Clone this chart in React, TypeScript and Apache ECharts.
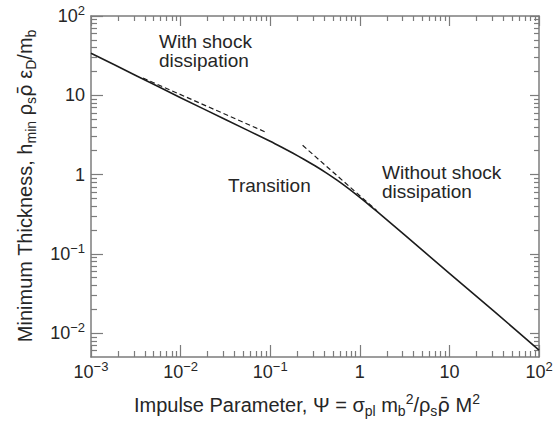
import React, { useEffect, useRef } from "react";
import * as echarts from "echarts";

// Solid curve: impulse parameter Psi vs minimum thickness
const curvePsi = [0.001, 0.00316, 0.01, 0.0316, 0.1, 0.133, 0.178, 0.237, 0.316, 0.422, 0.562, 0.75, 1, 1.334, 1.778, 3.16, 10, 31.6, 100];
const curveH = [33.9, 17.8, 9.33, 4.95, 2.63, 2.23, 1.87, 1.56, 1.29, 1.05, 0.843, 0.664, 0.515, 0.395, 0.301, 0.173, 0.0568, 0.0188, 0.0061];

// Dashed asymptotes
const withShockPsi = [0.0038, 0.088];
const withShockH = [16.5, 3.45];
const withoutShockPsi = [0.23, 1.55];
const withoutShockH = [2.34, 0.35];

// Axis decades (exponents) and extents
const xDecades = [-3, -2, -1, 0, 1, 2];
const yDecades = [-2, -1, 0, 1, 2];
const xRange = [0.001, 100];
const yRange = [0.005, 100];

const FONT = "'Liberation Sans', Arial, Helvetica, sans-serif";
const TEXT = "#262626";
const AXIS = "#7c7c7c";
const LINE = "#1c1c1c";

const lg = (v: number) => Math.log10(v);
const pairs = (xs: number[], ys: number[]) => xs.map((x, i) => [lg(x), lg(ys[i])]);

function minorTicks(lo: number, hi: number) {
  const out: number[] = [];
  for (let d = Math.floor(lo) - 1; d <= Math.ceil(hi); d++) {
    for (let k = 2; k <= 9; k++) {
      const v = d + Math.log10(k);
      if (v > lo + 1e-6 && v < hi - 1e-6) out.push(v);
    }
  }
  return out;
}

function decadeLabel(v: number) {
  const e = Math.round(v);
  if (e === 0) return "{b|1}";
  if (e === 1) return "{b|10}";
  return "{b|10}{s|" + (e < 0 ? "\u2212" + -e : String(e)) + "}";
}

const labelRich = {
  b: { fontSize: 18, lineHeight: 24, fontFamily: FONT, color: TEXT },
  s: { fontSize: 13, lineHeight: 13, verticalAlign: "top", fontFamily: FONT, color: TEXT },
};

const titleRich = {
  sub: { fontSize: 14, lineHeight: 14, verticalAlign: "bottom", fontFamily: FONT, fill: TEXT, color: TEXT },
  sup: { fontSize: 14, lineHeight: 14, verticalAlign: "top", fontFamily: FONT, fill: TEXT, color: TEXT },
  rb: { fontSize: 20, fontFamily: "'DejaVu Sans', sans-serif", fill: TEXT, color: TEXT },
};

export default function App() {
  const ref = useRef<HTMLDivElement>(null);

  useEffect(() => {
    if (!ref.current) return;
    const chart = echarts.init(ref.current, undefined, { renderer: "svg" });

    const lx = lg(xRange[0]);
    const hx = lg(xRange[1]);
    const ly = lg(yRange[0]);
    const hy = lg(yRange[1]);
    const xMinor = minorTicks(lx, hx);
    const yMinor = minorTicks(ly, hy);

    const mkAxis = (
      min: number,
      max: number,
      position: string,
      ticks: number[],
      len: number,
      showLine: boolean,
      label: any
    ) => ({
      type: "value",
      min,
      max,
      position,
      splitLine: { show: false },
      minorTick: { show: false },
      axisLine: { show: showLine, onZero: false, lineStyle: { color: AXIS, width: 1.5 } },
      axisTick: {
        show: true,
        inside: true,
        length: len,
        customValues: ticks,
        lineStyle: { color: AXIS, width: 1.2 },
      },
      axisLabel: label || { show: false },
    });

    const xLabel = {
      show: true,
      customValues: xDecades,
      formatter: decadeLabel,
      rich: labelRich,
      margin: 3,
    };
    const yLabel = {
      show: true,
      customValues: yDecades,
      formatter: decadeLabel,
      rich: labelRich,
      margin: 6,
    };

    const option: any = {
      animation: false,
      backgroundColor: "#ffffff",
      grid: { left: 91, right: 16, top: 16, bottom: 64, containLabel: false, outerBoundsMode: "none" },
      xAxis: [
        mkAxis(lx, hx, "bottom", xDecades, 12, true, xLabel),
        mkAxis(lx, hx, "bottom", xMinor, 6, false, null),
        mkAxis(lx, hx, "top", xDecades, 10, true, null),
        mkAxis(lx, hx, "top", xMinor, 5, false, null),
      ],
      yAxis: [
        mkAxis(ly, hy, "left", yDecades, 12, true, yLabel),
        mkAxis(ly, hy, "left", yMinor, 6, false, null),
        mkAxis(ly, hy, "right", yDecades, 9, true, null),
        mkAxis(ly, hy, "right", yMinor, 5, false, null),
      ],
      series: [
        {
          type: "line",
          xAxisIndex: 0,
          yAxisIndex: 0,
          data: pairs(curvePsi, curveH),
          smooth: 0.2,
          showSymbol: false,
          symbol: "none",
          lineStyle: { color: LINE, width: 1.6 },
          z: 5,
        },
        {
          type: "line",
          xAxisIndex: 0,
          yAxisIndex: 0,
          data: pairs(withShockPsi, withShockH),
          symbol: "none",
          lineStyle: { color: LINE, width: 1.2, type: [5, 3] },
        },
        {
          type: "line",
          xAxisIndex: 0,
          yAxisIndex: 0,
          data: pairs(withoutShockPsi, withoutShockH),
          symbol: "none",
          lineStyle: { color: LINE, width: 1.2, type: [5, 3] },
        },
      ],
      graphic: [
        {
          type: "text",
          x: 159,
          y: 32,
          style: {
            text: "With shock\ndissipation",
            fontSize: 19,
            lineHeight: 19,
            fontFamily: FONT,
            fill: TEXT,
            align: "left",
            verticalAlign: "top",
          },
        },
        {
          type: "text",
          x: 228,
          y: 185,
          style: {
            text: "Transition",
            fontSize: 19,
            fontFamily: FONT,
            fill: TEXT,
            align: "left",
            verticalAlign: "middle",
          },
        },
        {
          type: "text",
          x: 382,
          y: 163,
          style: {
            text: "Without shock\ndissipation",
            fontSize: 19,
            lineHeight: 19,
            fontFamily: FONT,
            fill: TEXT,
            align: "left",
            verticalAlign: "top",
          },
        },
        {
          type: "text",
          x: 307,
          y: 405,
          style: {
            text: "Impulse Parameter, \u03A8 = \u03C3{sub|pl} m{sub|b}{sup|2}/\u03C1{sub|s}{rb|\u03C1\u0304} M{sup|2}",
            fontSize: 20,
            lineHeight: 26,
            fontFamily: FONT,
            fill: TEXT,
            align: "center",
            verticalAlign: "middle",
            rich: titleRich,
          },
        },
        {
          type: "text",
          x: 25,
          y: 186,
          rotation: Math.PI / 2,
          style: {
            text: "Minimum Thickness, h{sub|min} \u03C1{sub|s}{rb|\u03C1\u0304} \u03B5{sub|D}/m{sub|b}",
            fontSize: 20,
            lineHeight: 26,
            fontFamily: FONT,
            fill: TEXT,
            align: "center",
            verticalAlign: "middle",
            rich: titleRich,
          },
        },
      ],
    };

    chart.setOption(option);
    return () => chart.dispose();
  }, []);

  return (
    <div
      ref={ref}
      style={{ position: "absolute", left: 0, top: 0, width: 555, height: 421, background: "#fff" }}
    />
  );
}
